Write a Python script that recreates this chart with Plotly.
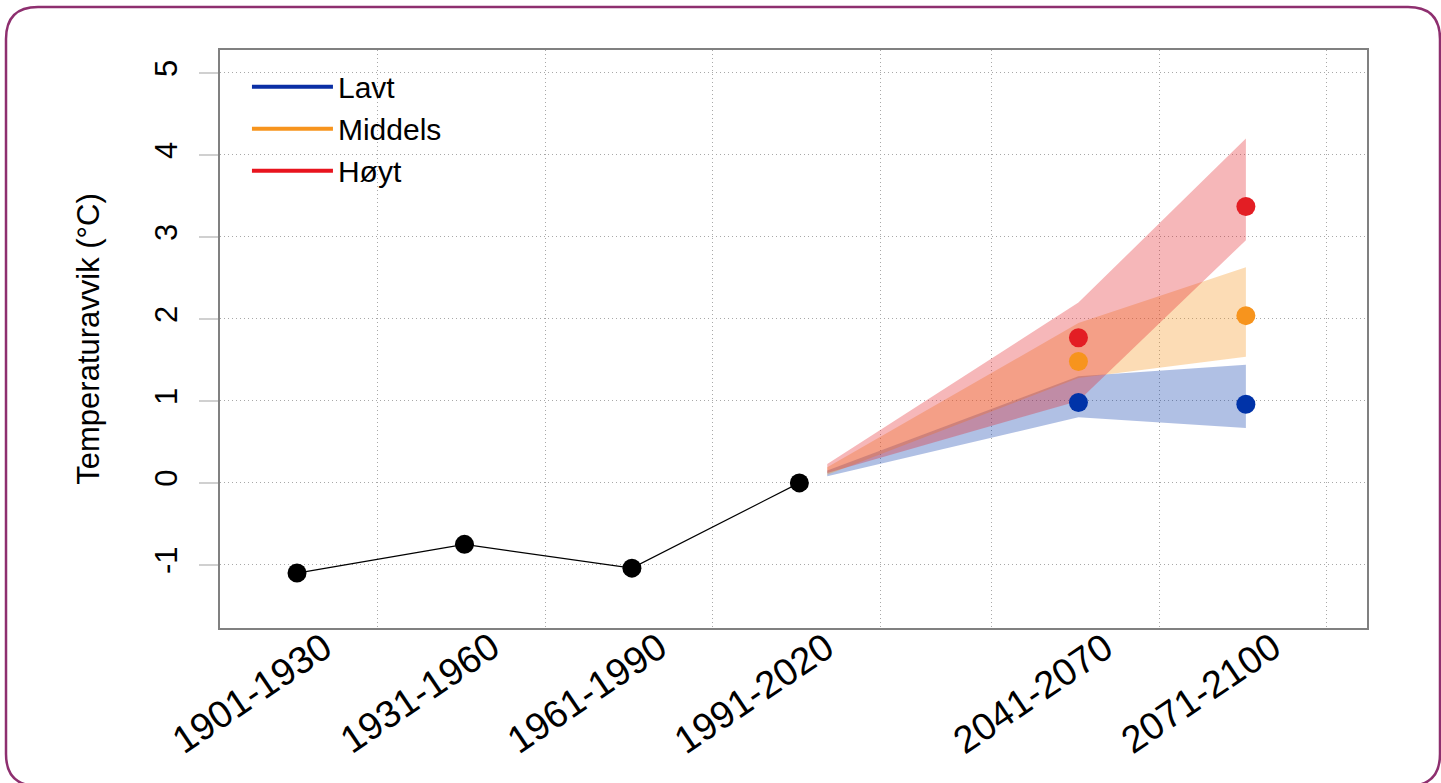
import plotly.graph_objects as go

# ---------------- data ----------------
periods = ["1901-1930", "1931-1960", "1961-1990", "1991-2020", "2041-2070", "2071-2100"]
observed_periods = ["1901-1930", "1931-1960", "1961-1990", "1991-2020"]
observed_values = [-1.10, -0.75, -1.04, 0.00]

band_x = [2010.5, 2055.5, 2085.5]
lavt_lo = [0.08, 0.80, 0.67]
lavt_hi = [0.15, 1.30, 1.44]
middels_lo = [0.10, 1.28, 1.54]
middels_hi = [0.19, 1.95, 2.63]
hoyt_lo = [0.12, 1.00, 2.96]
hoyt_hi = [0.23, 2.20, 4.20]

scen_periods = ["2041-2070", "2071-2100"]
lavt_mid = [0.98, 0.96]
middels_mid = [1.48, 2.04]
hoyt_mid = [1.77, 3.37]

scenario_names = ["Lavt", "Middels", "Høyt"]
grid_years = [1930, 1960, 1990, 2020, 2040, 2070, 2100]
y_ticks = [-1, 0, 1, 2, 3, 4, 5]


def mid(p):
    a, b = p.split("-")
    return (int(a) + int(b)) / 2


# ---------------- style ----------------
FONT = "Liberation Sans, Arial, Helvetica, sans-serif"
BLUE = "#0033A8"
ORANGE = "#F7941D"
RED = "#E31E24"
fills = ["rgba(0,51,168,0.31)", "rgba(247,148,29,0.33)", "rgba(227,30,36,0.32)"]
dot_colors = [BLUE, ORANGE, RED]
legend_colors = ["#0A2FA5", "#F7941D", "#E8141E"]
GRID = "#A8A8A8"

fig = go.Figure()

# bands
for lo, hi, fc in [(lavt_lo, lavt_hi, fills[0]), (middels_lo, middels_hi, fills[1]), (hoyt_lo, hoyt_hi, fills[2])]:
    fig.add_trace(go.Scatter(
        x=band_x + band_x[::-1], y=hi + lo[::-1], fill="toself", fillcolor=fc,
        mode="lines", line=dict(width=0), showlegend=False, hoverinfo="skip"))

# observed
fig.add_trace(go.Scatter(
    x=[mid(p) for p in observed_periods], y=observed_values, mode="lines+markers",
    line=dict(color="black", width=1.2), marker=dict(color="black", size=19),
    showlegend=False))

# scenario dots
for vals, c in zip([lavt_mid, middels_mid, hoyt_mid], dot_colors):
    fig.add_trace(go.Scatter(
        x=[mid(p) for p in scen_periods], y=vals, mode="markers",
        marker=dict(color=c, size=19), showlegend=False))

# legend entries
for name, c in zip(scenario_names, legend_colors):
    fig.add_trace(go.Scatter(x=[None], y=[None], mode="lines", name=name,
                             line=dict(color=c, width=4)))

# x tick labels (rotated, as annotations at the period midpoints)
for p in periods:
    fig.add_annotation(x=mid(p), y=0, xref="x", yref="paper", text=p, showarrow=False,
                       textangle=-34, xanchor="right", yanchor="top",
                       xshift=45, yshift=6, font=dict(size=38, color="black"))

# outer rounded border (pixel -> paper)
L, T, W, H = 220, 50, 1147, 578


def P(x, y):
    return f"{(x - L) / W:.5f},{(T + H - y) / H:.5f}"


x0, y0, x1, y1, r = 6, 7, 1440, 786, 32
path = (f"M{P(x0 + r, y0)} L{P(x1 - r, y0)} Q{P(x1, y0)} {P(x1, y0 + r)} "
        f"L{P(x1, y1 - r)} Q{P(x1, y1)} {P(x1 - r, y1)} L{P(x0 + r, y1)} "
        f"Q{P(x0, y1)} {P(x0, y1 - r)} L{P(x0, y0 + r)} Q{P(x0, y0)} {P(x0 + r, y0)} Z")
fig.add_shape(type="path", path=path, xref="paper", yref="paper",
              line=dict(color="#8E2F6F", width=2.5), layer="below")

fig.update_layout(
    width=1441, height=783,
    margin=dict(l=L, r=1441 - L - W, t=T, b=783 - T - H),
    paper_bgcolor="white", plot_bgcolor="white",
    font=dict(family=FONT, size=30, color="black"),
    showlegend=True,
    legend=dict(x=0.0235, y=0.9815, xanchor="left", yanchor="top", itemwidth=81,
                bgcolor="rgba(0,0,0,0)", font=dict(size=30), tracegroupgap=0),
    xaxis=dict(
        range=[1901.7, 2107.2],
        tickmode="array", tickvals=[mid(p) for p in periods], showticklabels=False,
        ticks="", showgrid=False, zeroline=False,
        showline=True, mirror=True, linecolor="#808080", linewidth=1.5,
        minor=dict(tickmode="array", tickvals=grid_years, showgrid=True,
                   gridcolor=GRID, griddash="1px,3px", gridwidth=1, ticks=""),
    ),
    yaxis=dict(
        range=[-1.77, 5.28],
        tickmode="array", tickvals=y_ticks, ticktext=[str(v) for v in y_ticks],
        tickangle=-90, ticks="outside", ticklen=19, tickwidth=1.5, tickcolor="#D0D0D0",
        ticklabelstandoff=10,
        showgrid=True, gridcolor=GRID, griddash="1px,3px", gridwidth=1,
        zeroline=False, showline=True, mirror=True, linecolor="#808080", linewidth=1.5,
        tickfont=dict(size=31),
        title=dict(text="Temperaturavvik (°C)", font=dict(size=31), standoff=40),
    ),
)

fig.write_html("out.html", config={"displayModeBar": False},
               post_script="document.body.style.margin='0';document.body.style.overflow='hidden';")
